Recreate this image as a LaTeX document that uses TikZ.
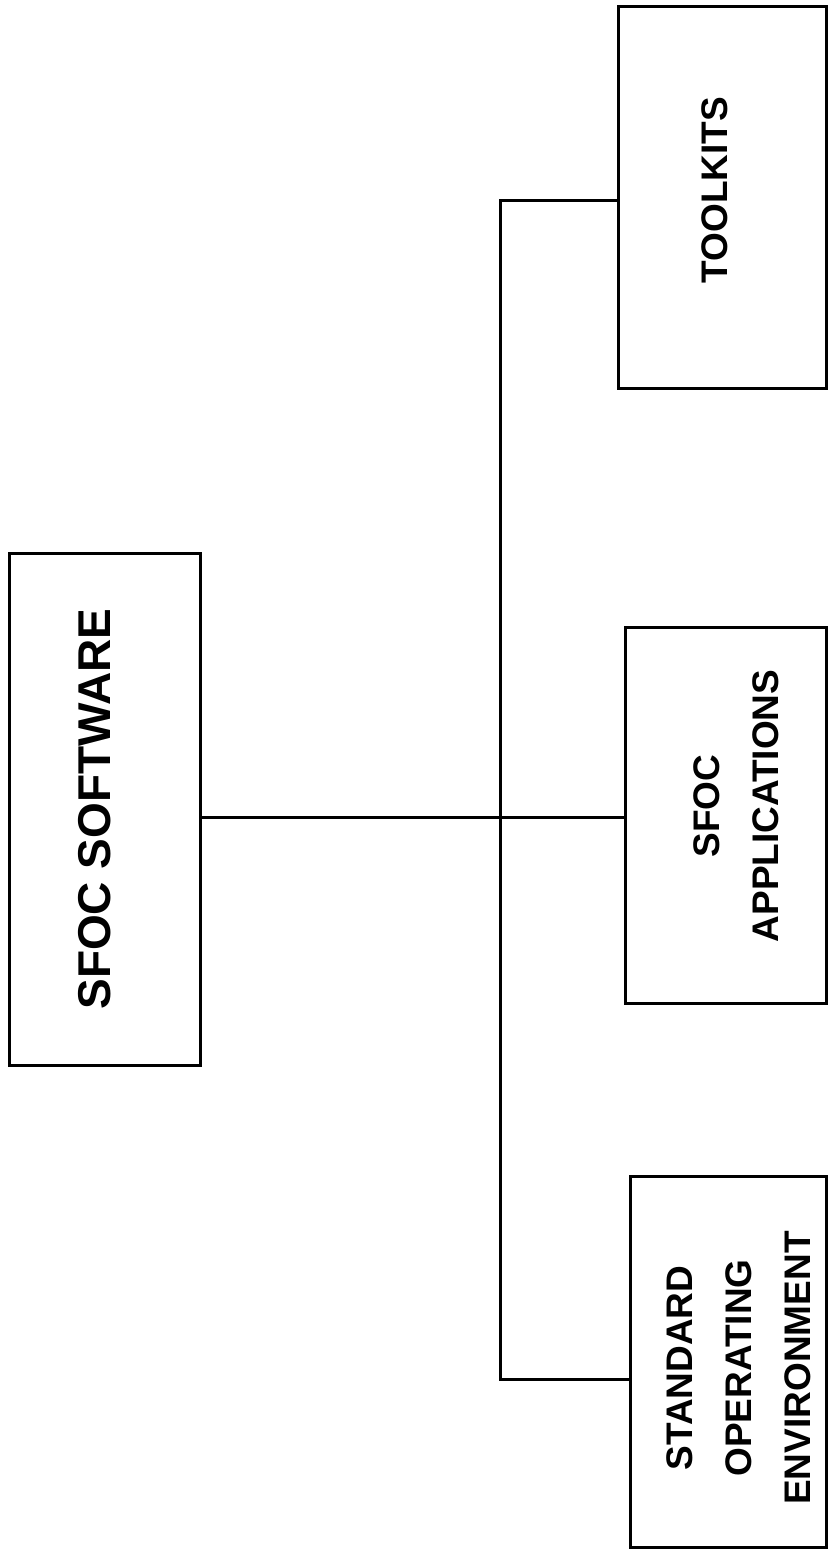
\documentclass[tikz,border=0pt]{standalone}
\usepackage{fontspec}
\setmainfont{Liberation Sans}
\begin{document}
\begin{tikzpicture}[x=1pt,y=-1pt,
  box/.style={draw,line width=3pt,rectangle,inner sep=0pt},
  lbl/.style={rotate=90,anchor=base,align=center,inner sep=0pt,font=\bfseries\fontsize{37}{59}\selectfont},
  conn/.style={line width=3pt,line cap=rect}]
\useasboundingbox (0,0) rectangle (828,1552);
% boxes
\node[box,minimum width=191pt,minimum height=512pt] (soft) at (104.5,809) {};
\node[box,minimum width=208pt,minimum height=381pt] (tool) at (722,197.5) {};
\node[box,minimum width=201pt,minimum height=376pt] (apps) at (725.5,815) {};
\node[box,minimum width=196pt,minimum height=371pt] (env) at (728,1361.5) {};
% labels
\node[lbl,font=\bfseries\fontsize{46}{55}\selectfont] (softt) at (110,809) {SFOC SOFTWARE};
\node[lbl] (toolt) at (727,190) {TOOLKITS};
\node[lbl] (appst) at (778,806) {SFOC\\APPLICATIONS};
\node[lbl] (envt) at (810,1368) {STANDARD\\OPERATING\\ENVIRONMENT};
% connectors
\coordinate (jm) at (500,817);
\coordinate (jt) at (500,200);
\coordinate (jb) at (500,1379);
\draw[conn] (soft.east |- jm) -- (apps.west |- jm);
\draw[conn] (tool.west |- jt) -- (jt) -- (jb) -- (env.west |- jb);
\end{tikzpicture}
\end{document}
